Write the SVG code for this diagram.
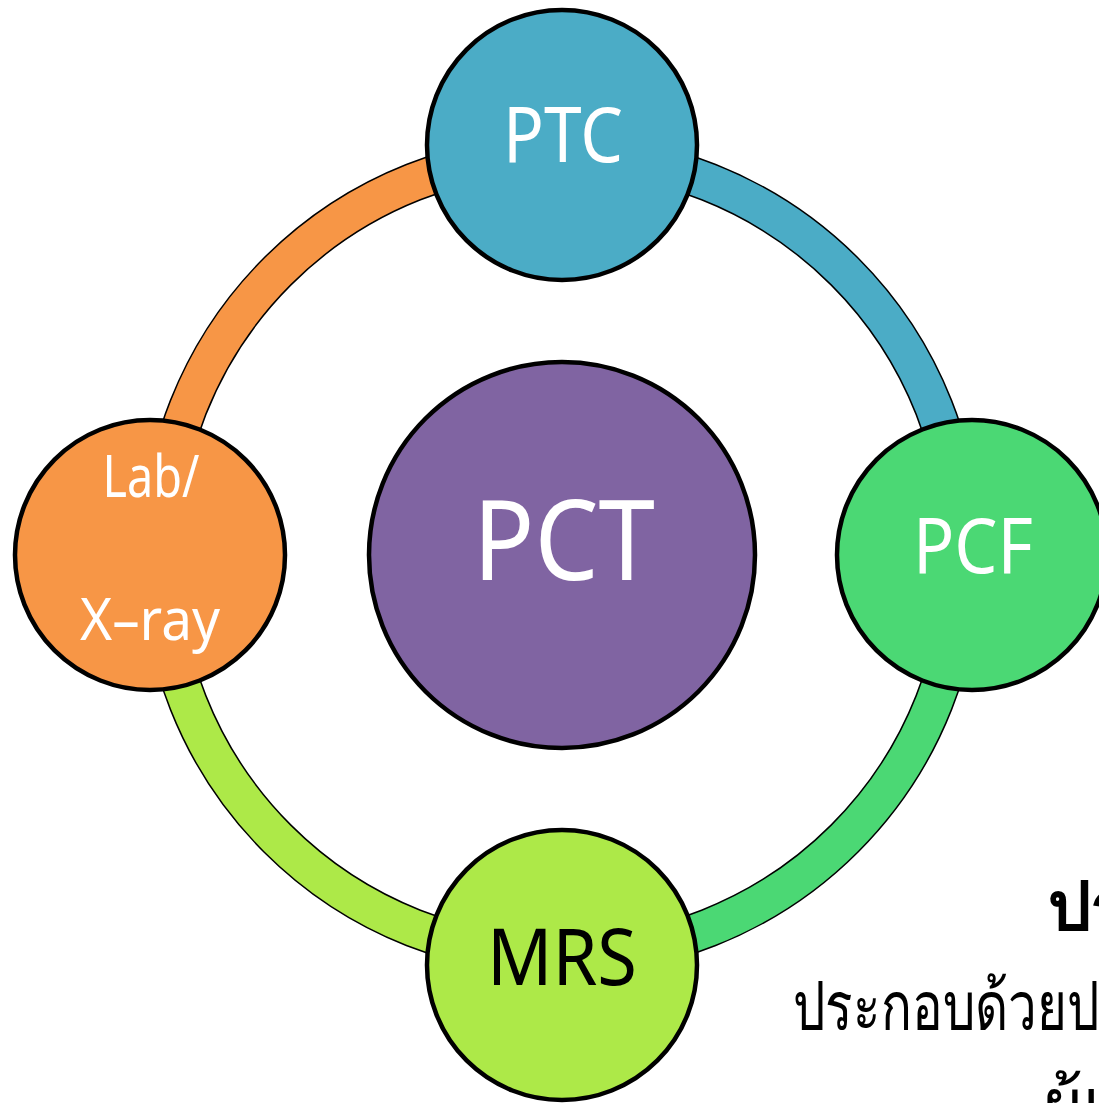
<svg xmlns="http://www.w3.org/2000/svg" width="1099" height="1103" viewBox="0 0 1099 1103">
<style>
.seg{stroke:#000;stroke-width:1.5}
.node{stroke:#000;stroke-width:4.5}
.lbl{font-family:"Noto Sans","DejaVu Sans",sans-serif;text-anchor:middle;fill:#fff}
.th{font-family:"Noto Sans","DejaVu Sans",sans-serif;fill:#000}
</style>
<rect width="1099" height="1103" fill="#fff"/>
<g id="connectors">
<path class="seg" fill="#F79646" d="M141 555 A420 420 0 0 1 561 135 L561 173 A382 382 0 0 0 179 555 Z"/>
<path class="seg" fill="#4BACC6" d="M561 135 A420 420 0 0 1 981 555 L943 555 A382 382 0 0 0 561 173 Z"/>
<path class="seg" fill="#4BD874" d="M981 555 A420 420 0 0 1 561 975 L561 937 A382 382 0 0 0 943 555 Z"/>
<path class="seg" fill="#ADE948" d="M561 975 A420 420 0 0 1 141 555 L179 555 A382 382 0 0 0 561 937 Z"/>
</g>
<g id="node-PTC">
<circle class="node" cx="562" cy="145" r="135" fill="#4BACC6"/>
<text class="lbl" x="563" y="162" font-size="77" textLength="120" lengthAdjust="spacingAndGlyphs">PTC</text>
</g>
<g id="node-PCF">
<circle class="node" cx="972" cy="555" r="135" fill="#4BD874"/>
<text class="lbl" x="973" y="573" font-size="77" textLength="120" lengthAdjust="spacingAndGlyphs">PCF</text>
</g>
<g id="node-MRS">
<circle class="node" cx="562" cy="965" r="135" fill="#ADE948"/>
<text class="lbl" x="562" y="985" font-size="79" textLength="150" lengthAdjust="spacingAndGlyphs" style="fill:#000">MRS</text>
</g>
<g id="node-Lab">
<circle class="node" cx="150" cy="555" r="135" fill="#F79646"/>
<text class="lbl" x="151" y="497" font-size="59" textLength="97" lengthAdjust="spacingAndGlyphs">Lab/</text>
<text class="lbl" x="150" y="640" font-size="59" textLength="140" lengthAdjust="spacingAndGlyphs">X–ray</text>
</g>
<g id="node-PCT">
<circle class="node" cx="562" cy="555" r="193" fill="#8064A2"/>
<text class="lbl" x="564" y="580" font-size="112" textLength="182" lengthAdjust="spacingAndGlyphs">PCT</text>
</g>
<g id="text">
<text class="th" x="1048" y="930" font-size="68" font-weight="bold">ปร</text>
<text class="th" x="793" y="1030" font-size="68" textLength="306" lengthAdjust="spacingAndGlyphs">ประกอบด้วยป</text>
<text class="th" x="1043" y="1127" font-size="68">ผู้เ</text>
</g>
</svg>
